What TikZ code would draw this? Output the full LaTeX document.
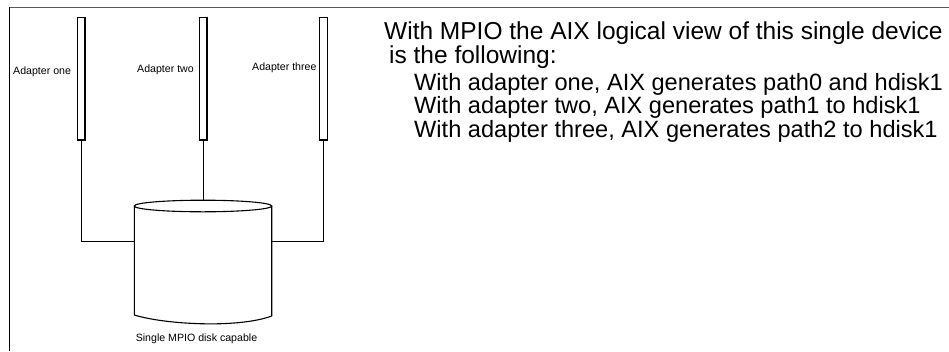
\documentclass[tikz,border=0pt]{standalone}
\usepackage{fontspec}
\setmainfont{Liberation Sans}
\usetikzlibrary{calc}
\begin{document}
\begin{tikzpicture}[x=1pt,y=-1pt,
  bar/.style={draw=black, line width=1.3pt, fill=white, minimum width=7.7pt, minimum height=122.7pt, inner sep=0pt},
  lbl/.style={font=\fontsize{10.6}{12}\selectfont, inner sep=0pt, anchor=base west},
  big/.style={font=\fontsize{24.5}{28}\selectfont, inner sep=0pt, anchor=base west},
  sub/.style={font=\fontsize{23.6}{28}\selectfont, inner sep=0pt, anchor=base west},
  wire/.style={draw=black, line width=1.1pt}]
\useasboundingbox (0,0) rectangle (949,351);
% frame
\draw[black!65, line width=1pt] (9.3,7.3) -- (949,7.3);
\draw[black, line width=1.2pt] (9.3,7.3) -- (9.3,351);
% adapters
\node[bar] (a1) at (81.2,78.7) {};
\node[bar] (a2) at (203.2,78.7) {};
\node[bar] (a3) at (323.3,78.7) {};
\node[lbl] (l1) at (13,74.5) {Adapter one};
\node[lbl] (l2) at (137,72) {Adapter two};
\node[lbl] (l3) at (252,70.5) {Adapter three};
% disk
\coordinate (dtop) at (203.2,200.2);
\coordinate (dleft) at (134.3,241.7);
\coordinate (dright) at (271.7,241.7);
\draw[wire] (134.3,206) -- (134.3,315) .. controls (165,324.5) and (238,328.5) .. (271.7,316) -- (271.7,206);
\draw[wire] (203,206) ellipse [x radius=68.7pt, y radius=5.8pt];
\node[lbl, anchor=base] (dl) at (196.5,341) {Single MPIO disk capable};
% connectors
\draw[wire] (a1.south) |- (dleft);
\draw[wire] (a2.south) -- (dtop);
\draw[wire] (a3.south) |- (dright);
% text
\node[big] (t1) at (384,39.5) {With MPIO the AIX logical view of this single device};
\node[big] (t2) at (389,63.5) {is the following:};
\node[sub] (t3) at (414,90) {With adapter one, AIX generates path0 and hdisk1};
\node[sub] (t4) at (414,113.5) {With adapter two, AIX generates path1 to hdisk1};
\node[sub] (t5) at (414,137) {With adapter three, AIX generates path2 to hdisk1};
\end{tikzpicture}
\end{document}
